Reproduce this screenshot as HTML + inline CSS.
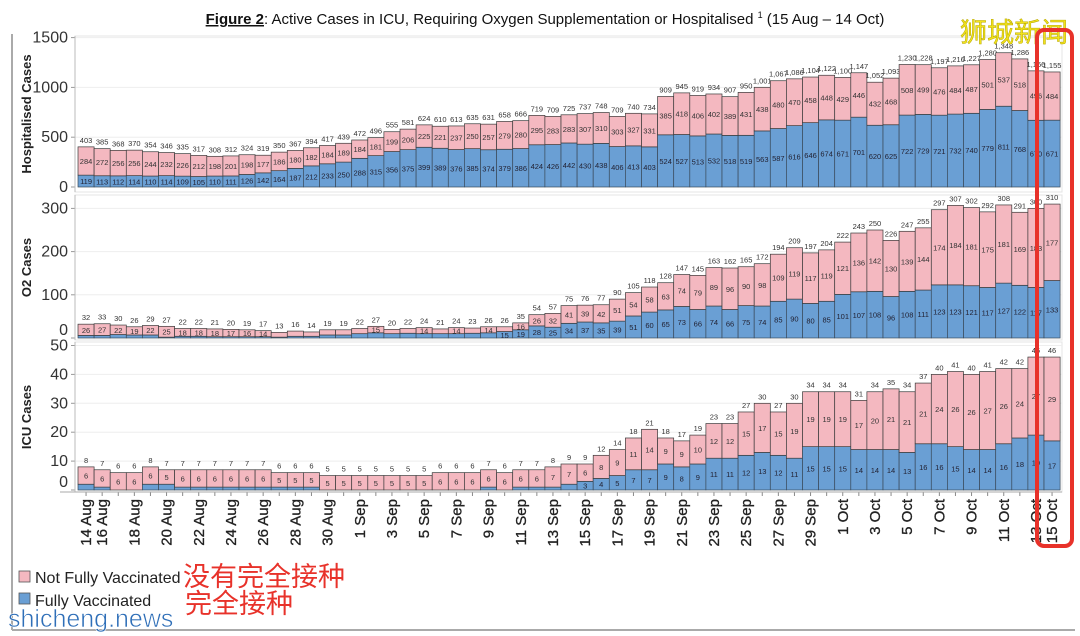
<!DOCTYPE html>
<html><head><meta charset="utf-8">
<style>
body{margin:0;background:#fff;}
svg{display:block;font-family:"Liberation Sans","Noto Sans CJK SC",sans-serif;}
</style></head>
<body>
<svg id="chart" width="1080" height="636" viewBox="0 0 1080 636">
  <rect x="0" y="0" width="1080" height="636" fill="#fff"/>
  <line x1="12" y1="34" x2="12" y2="630" stroke="#aaa" stroke-width="2"/>
  <line x1="12" y1="630" x2="1075" y2="630" stroke="#aaa" stroke-width="2"/>
  <text x="545" y="24" text-anchor="middle" font-size="15" fill="#111"><tspan font-weight="bold" text-decoration="underline">Figure 2</tspan>: Active Cases in ICU, Requiring Oxygen Supplementation or Hospitalised <tspan font-size="9" dy="-6">1</tspan><tspan dy="6"> (15 Aug – 14 Oct)</tspan></text>
  <g id="panels"></g>
  <g id="xlabels"></g>
  <rect x="19" y="571" width="11" height="11" fill="#f4b8c0" stroke="#555" stroke-width="0.8"/>
  <text x="35" y="583" font-size="16" fill="#222">Not Fully Vaccinated</text>
  <rect x="19" y="593" width="11" height="11" fill="#6a9fd4" stroke="#555" stroke-width="0.8"/>
  <text x="35" y="606" font-size="16" fill="#222">Fully Vaccinated</text>
  <text x="183" y="586" font-size="27" fill="#e8322a">没有完全接种</text>
  <text x="185" y="613" font-size="27" fill="#e8322a">完全接种</text>
  <text x="8" y="627" font-size="25" fill="#2f6fb8" stroke="#fff" stroke-width="0.6">shicheng.news</text>
  <text x="960" y="42" font-size="27" fill="#f1e21b" stroke="#b8a800" stroke-width="0.5">狮城新闻</text>
  <rect x="1037" y="30" width="35" height="516" rx="7" fill="none" stroke="#e8322a" stroke-width="4"/>
</svg>
<script>
const hospFully=[119,113,112,114,110,114,109,105,110,111,126,142,164,187,212,233,250,288,315,356,375,399,389,376,385,374,379,386,424,426,442,430,438,406,413,403,524,527,513,532,518,519,563,587,616,646,674,671,701,620,625,722,729,721,732,740,779,811,768,670,671];
const hospNot=[284,272,256,256,244,232,226,212,198,201,198,177,186,180,182,184,189,184,181,199,206,225,221,237,250,257,279,280,295,283,283,307,310,303,327,331,385,418,406,402,389,431,438,480,470,458,448,429,446,432,468,508,499,476,484,487,501,537,518,496,484];
const o2Fully=[6,6,8,7,7,2,4,4,3,3,3,3,2,4,4,7,7,10,12,10,11,10,10,10,11,12,15,19,28,25,34,37,35,39,51,60,65,73,66,74,66,75,74,85,90,80,85,101,107,108,96,108,111,123,123,121,117,127,122,117,133];
const o2Not=[26,27,22,19,22,25,18,18,18,17,16,14,11,12,10,12,12,12,15,10,11,14,11,14,12,14,11,16,26,32,41,39,42,51,54,58,63,74,79,89,96,90,98,109,119,117,119,121,136,142,130,139,144,174,184,181,175,181,169,183,177];
const icuFully=[2,1,0,0,2,2,1,1,1,1,1,1,1,1,1,0,0,0,0,0,0,0,0,0,0,1,0,1,1,1,2,3,4,5,7,7,9,8,9,11,11,12,13,12,11,15,15,15,14,14,14,13,16,16,15,14,14,16,18,19,17];
const icuNot=[6,6,6,6,6,5,6,6,6,6,6,6,5,5,5,5,5,5,5,5,5,5,6,6,6,6,6,6,6,7,7,6,8,9,11,14,9,9,10,12,12,15,17,15,19,19,19,19,17,20,21,21,21,24,26,26,27,26,24,27,29];
const dateLabels=["14 Aug","16 Aug","18 Aug","20 Aug","22 Aug","24 Aug","26 Aug","28 Aug","30 Aug","1 Sep","3 Sep","5 Sep","7 Sep","9 Sep","11 Sep","13 Sep","15 Sep","17 Sep","19 Sep","21 Sep","23 Sep","25 Sep","27 Sep","29 Sep","1 Oct","3 Oct","5 Oct","7 Oct","9 Oct","11 Oct","13 Oct","15 Oct"];
const labelBars=[0,1,3,5,7,9,11,13,15,17,19,21,23,25,27,29,31,33,35,37,39,41,43,45,47,49,51,53,55,57,59,60];
const hospTicks=[0,500,1000,1500];
const o2Ticks=[0,100,200,300];
const icuTicks=[0,10,20,30,40,50];

const NS="http://www.w3.org/2000/svg";
const X0=78, STEP=16.1, XEND=1062;
function xPos(i){return X0+i*STEP;}
function mk(tag,attrs,parent){const e=document.createElementNS(NS,tag);for(const k in attrs)e.setAttribute(k,attrs[k]);parent.appendChild(e);return e;}
function fmt(v){return v>=1000?Math.floor(v/1000)+","+String(v%1000).padStart(3,"0"):String(v);}

const panels=document.getElementById("panels");
const specs=[
 {name:"hospitalised",title:"Hospitalised Cases",fully:hospFully,not:hospNot,ticks:hospTicks,y0:187,scale:0.0996,top:36,bottom:192,labelOff:[0,0,0,0]},
 {name:"o2",title:"O2 Cases",fully:o2Fully,not:o2Not,ticks:o2Ticks,y0:338,scale:0.432,top:195,bottom:340,labelOff:[-8,0,0,0]},
 {name:"icu",title:"ICU Cases",fully:icuFully,not:icuNot,ticks:icuTicks,y0:490,scale:2.89,top:342,bottom:492,labelOff:[-8,0,0,0,0,0]}
];
specs.forEach(s=>{
  const g=mk("g",{},panels);
  
  
  const yS=v=>s.y0-v*s.scale;
  const frame=mk("rect",{x:75,y:s.top,width:XEND-75,height:s.bottom-s.top,fill:"none",stroke:"#e4e4e4","stroke-width":1},g);
  
  
  s.ticks.forEach((t,k)=>{
    const y=yS(t);
    if(t>0){
      const gl=mk("line",{x1:75,x2:XEND,y1:y,y2:y,stroke:"#eeeeee","stroke-width":1},g);
      
      
    }
    const tk=mk("line",{x1:71,x2:75,y1:y,y2:y,stroke:"#999"},g);
    
    
    const tl=mk("text",{x:68,y:y+5+(s.labelOff[k]||0),"text-anchor":"end","font-size":16,fill:"#333"},g);
    tl.textContent=t;
    
    
  });
  const ax=mk("line",{x1:75,x2:75,y1:s.top,y2:s.bottom,stroke:"#bbb"},g);
  
  
  const cy=(s.top+s.bottom)/2;
  const at=mk("text",{x:0,y:0,transform:`translate(31,${cy}) rotate(-90)`,"text-anchor":"middle","font-size":13,"font-weight":"bold",fill:"#222"},g);
  at.textContent=s.title;
  
  
  s.fully.forEach((fv,i)=>{
    const nv=s.not[i], x=xPos(i), tot=fv+nv;
    const yb=yS(0), yf=yS(fv), yt=yS(tot);
    const rb=mk("rect",{x:x,y:yf,width:STEP,height:yb-yf,fill:"#6a9fd4",stroke:"#3a4a5a","stroke-width":0.7},g);
    
    
    const rp=mk("rect",{x:x,y:yt,width:STEP,height:yf-yt,fill:"#f4b8c0",stroke:"#3a3a3a","stroke-width":0.7},g);
    
    
    const cx=x+STEP/2;
    const tl=mk("text",{x:cx,y:yt-4,"text-anchor":"middle","font-size":7.5,fill:"#333"},g);
    tl.textContent=fmt(tot);
    
    
    if(yf-yt>=6){
      const nl=mk("text",{x:cx,y:(yt+yf)/2+3,"text-anchor":"middle","font-size":7.5,fill:"#333"},g);
      nl.textContent=nv;
      
      
    }
    if(yb-yf>=6){
      const fl=mk("text",{x:cx,y:(yf+yb)/2+3,"text-anchor":"middle","font-size":7.5,fill:"#223"},g);
      fl.textContent=fv;
      
      
    }
  });
});
const xl=document.getElementById("xlabels");
for(let i=0;i<hospFully.length;i++){
  const t=mk("line",{x1:xPos(i)+STEP/2,x2:xPos(i)+STEP/2,y1:492,y2:496,stroke:"#888"},xl);
  
  
}
const xa=mk("line",{x1:60,x2:XEND,y1:492,y2:492,stroke:"#aaa"},xl);


dateLabels.forEach((d,k)=>{
  const cx=xPos(labelBars[k])+STEP/2;
  const t=mk("text",{x:0,y:0,transform:`translate(${cx+5},499) rotate(-90)`,"text-anchor":"end","font-size":15,fill:"#222",stroke:"#222","stroke-width":0.3},xl);
  t.textContent=d;
  
  
});
</script>
</body></html>
